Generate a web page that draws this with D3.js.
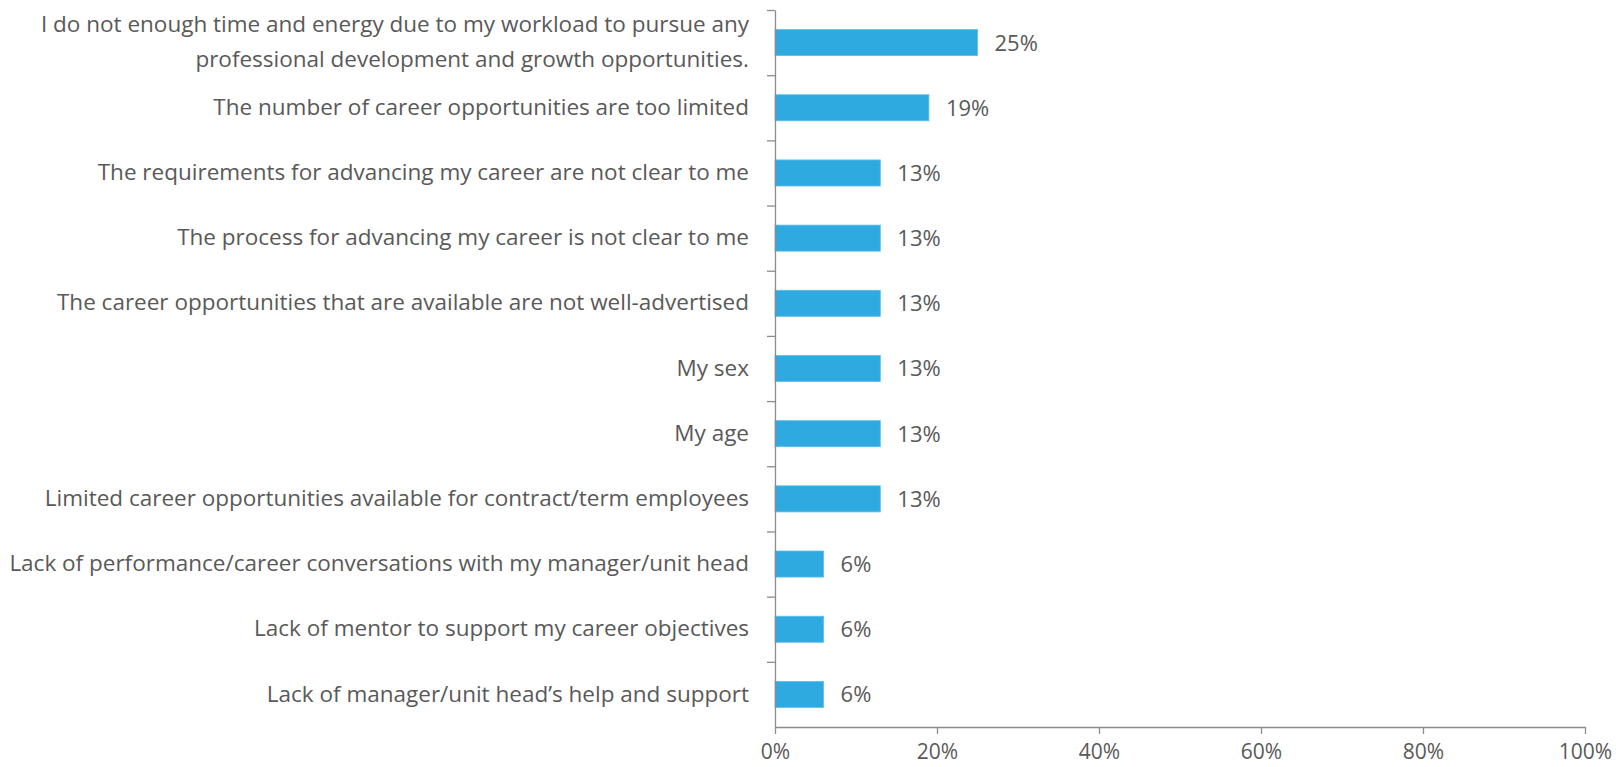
<!DOCTYPE html>
<html>
<head>
<meta charset="utf-8">
<script src="https://cdn.jsdelivr.net/npm/d3@7"></script>
<style>
  html, body { margin: 0; padding: 0; background: #ffffff; }
  svg { display: block; }
  text { font-family: "Open Sans", "Noto Sans", sans-serif; fill: #595959; }
</style>
</head>
<body>
<svg id="chart" width="1616" height="767"></svg>
<script>
// Barriers to career advancement (share of respondents)
const categories = [
  ["I do not enough time and energy due to my workload to pursue any", "professional development and growth opportunities."],
  ["The number of career opportunities are too limited"],
  ["The requirements for advancing my career are not clear to me"],
  ["The process for advancing my career is not clear to me"],
  ["The career opportunities that are available are not well-advertised"],
  ["My sex"],
  ["My age"],
  ["Limited career opportunities available for contract/term employees"],
  ["Lack of performance/career conversations with my manager/unit head"],
  ["Lack of mentor to support my career objectives"],
  ["Lack of manager/unit head\u2019s help and support"]
];
const values = [0.25, 0.19, 0.13, 0.13, 0.13, 0.13, 0.13, 0.13, 0.06, 0.06, 0.06];
const xTicks = [0, 0.2, 0.4, 0.6, 0.8, 1.0];

const svg = d3.select("#chart");
const plotLeft = 775, plotRight = 1585, plotTop = 10, plotBottom = 727;
const axisColor = "#8c8c8c";
const barColor = "#2eaae0";

const x = d3.scaleLinear().domain([0, 1]).range([plotLeft, plotRight]);
const y = d3.scaleBand().domain(d3.range(categories.length)).range([plotTop, plotBottom]).padding(0);
// category boundaries for the tick marks on the vertical axis
const yEdge = d3.scaleLinear().domain([0, categories.length]).range([plotTop, plotBottom]);

const barH = y.bandwidth() * 0.4;

// bars
svg.append("g").selectAll("rect")
  .data(values)
  .join("rect")
  .attr("x", x(0))
  .attr("y", (d, i) => y(i) + (y.bandwidth() - barH) / 2)
  .attr("width", d => x(d) - x(0))
  .attr("height", barH)
  .attr("fill", barColor)
  .attr("stroke", "#5fc0ea")
  .attr("stroke-width", 0.8);

// value labels
const fmt = d3.format(".0%");
svg.append("g").selectAll("text")
  .data(values)
  .join("text")
  .attr("x", d => x(d) + 17)
  .attr("y", (d, i) => y(i) + y.bandwidth() / 2)
  .attr("dy", "0.36em")
  .attr("font-size", 22)
  .text(d => fmt(d));

// x axis
const xAxis = svg.append("g")
  .attr("transform", `translate(0,${plotBottom})`)
  .call(d3.axisBottom(x).tickValues(xTicks).tickFormat(d3.format(".0%")).tickSize(7).tickSizeOuter(0).tickPadding(10));
xAxis.select(".domain").attr("stroke", axisColor).attr("stroke-width", 1.3);
xAxis.selectAll(".tick line").attr("stroke", axisColor).attr("stroke-width", 1.3);
xAxis.selectAll(".tick text")
  .attr("font-size", 21)
  .attr("font-family", "'Open Sans', 'Noto Sans', sans-serif")
  .attr("fill", "#595959");

// y axis: ticks between categories, no tick labels
const yAxis = svg.append("g")
  .attr("transform", `translate(${plotLeft},0)`)
  .call(d3.axisLeft(yEdge).tickValues(d3.range(categories.length)).tickFormat("").tickSize(8).tickSizeOuter(0));
yAxis.select(".domain").attr("stroke", axisColor).attr("stroke-width", 1.3);
yAxis.selectAll(".tick line").attr("stroke", axisColor).attr("stroke-width", 1.3);

// category labels
const lineGap = 35;
const lab = svg.append("g").selectAll("text")
  .data(categories)
  .join("text")
  .attr("x", plotLeft - 26)
  .attr("y", (d, i) => y(i) + y.bandwidth() / 2 - (d.length - 1) * lineGap / 2 - 1)
  .attr("text-anchor", "end")
  .attr("font-size", 22.5);
lab.selectAll("tspan")
  .data(d => d)
  .join("tspan")
  .attr("x", plotLeft - 26)
  .attr("dy", (d, i) => i === 0 ? "0.36em" : lineGap)
  .text(d => d);
</script>
</body>
</html>
